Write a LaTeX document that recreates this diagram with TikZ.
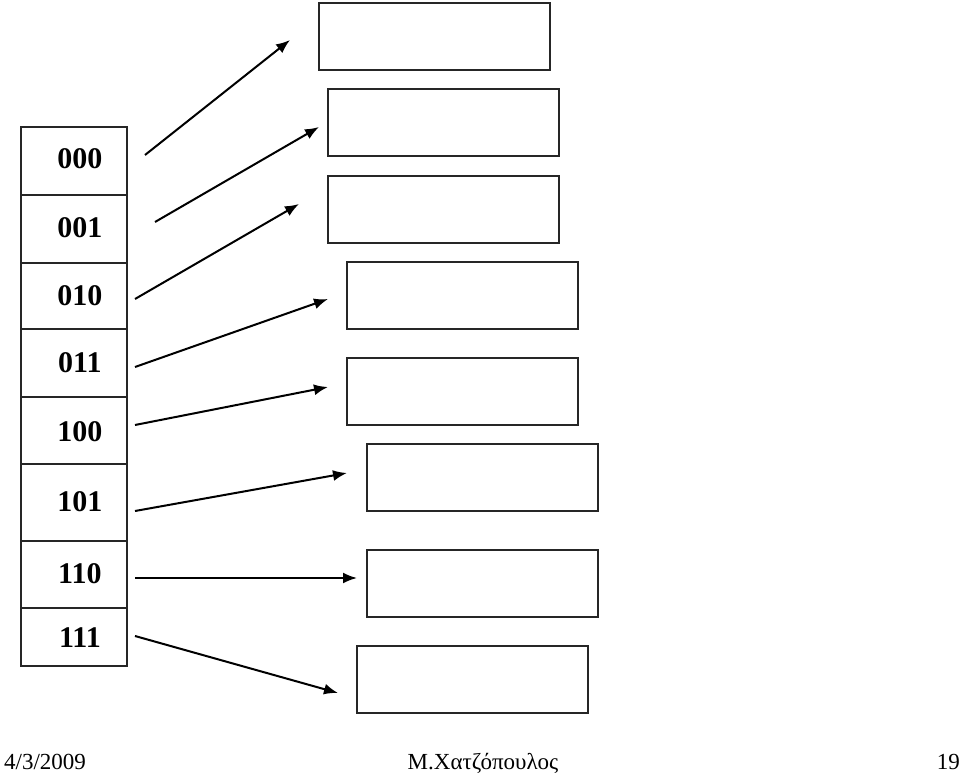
\documentclass[tikz,border=0pt]{standalone}
\usepackage{fontspec}
\setmainfont{Liberation Serif}
\usetikzlibrary{arrows.meta}
\begin{document}
\begin{tikzpicture}[x=1pt,y=-1pt,
  cell/.style={draw=black!85,line width=1.8pt,minimum width=106pt,minimum height=67.5pt,inner sep=0pt,anchor=north west,
     font=\fontsize{30}{31}\selectfont\bfseries,text depth=0pt},
  bucket/.style={draw=black!85,line width=2pt,minimum width=231pt,minimum height=67pt,inner sep=0pt,anchor=north west},
  ptr/.style={line width=2pt,-{Latex[length=14pt,width=11pt]}},
  foot/.style={font=\fontsize{23}{25}\selectfont,anchor=base,inner sep=0pt}]
\useasboundingbox (0,0) rectangle (960,775);
\fill[white] (0,0) rectangle (960,775);
% directory table
\node[cell,minimum height=68pt] (r0) at (20,126) {\raisebox{4pt}{\hspace{12pt}000}};
\node[cell,minimum height=68pt] (r1) at (20,194) {\raisebox{3pt}{\hspace{12pt}001}};
\node[cell,minimum height=66pt] (r2) at (20,262) {\raisebox{1pt}{\hspace{12pt}010}};
\node[cell,minimum height=68pt] (r3) at (20,328) {\raisebox{1pt}{\hspace{12pt}011}};
\node[cell,minimum height=67pt] (r4) at (20,396) {\raisebox{-2pt}{\hspace{12pt}100}};
\node[cell,minimum height=77pt] (r5) at (20,463) {\raisebox{1pt}{\hspace{12pt}101}};
\node[cell,minimum height=67pt] (r6) at (20,540) {\raisebox{2pt}{\hspace{12pt}110}};
\node[cell,minimum height=58pt] (r7) at (20,607) {\raisebox{-2pt}{\hspace{12pt}111}};
% buckets
\node[bucket] (b0) at (318,2) {};
\node[bucket] (b1) at (327,88) {};
\node[bucket] (b2) at (327,175) {};
\node[bucket] (b3) at (346,261) {};
\node[bucket] (b4) at (346,357) {};
\node[bucket] (b5) at (366,443) {};
\node[bucket] (b6) at (366,549) {};
\node[bucket] (b7) at (356,645) {};
% pointer endpoints
\coordinate (s0) at (145,155); \coordinate (e0) at (290,40);
\coordinate (s1) at (155,222); \coordinate (e1) at (319,127);
\coordinate (s2) at (135,299); \coordinate (e2) at (299,204);
\coordinate (s3) at (135,367); \coordinate (e3) at (328,299);
\coordinate (s4) at (135,425); \coordinate (e4) at (328,387);
\coordinate (s5) at (135,511); \coordinate (e5) at (347,473);
\coordinate (s6) at (135,578); \coordinate (e6) at (357,578);
\coordinate (s7) at (135,636); \coordinate (e7) at (338,693);
\foreach \i in {0,...,7} {\draw[ptr] (s\i) -- (e\i);}
% footer
\node[foot,anchor=base west] (date) at (4,769) {4/3/2009};
\node[foot] (author) at (483,769) {Μ.Χατζόπουλος};
\node[foot,anchor=base east] (page) at (960,769) {19};
\end{tikzpicture}
\end{document}
